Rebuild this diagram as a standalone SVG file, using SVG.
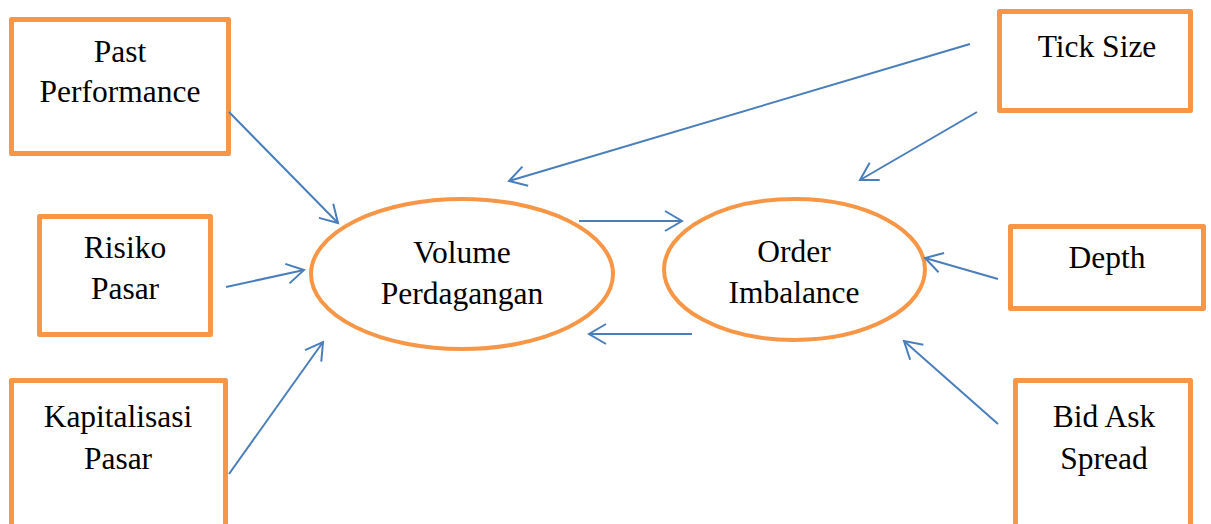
<svg xmlns="http://www.w3.org/2000/svg" width="1211" height="524" viewBox="0 0 1211 524">
  <style>
    .box { fill: #ffffff; stroke: #F79646; stroke-width: 5; stroke-linejoin: round; }
    .oval { fill: #ffffff; stroke: #F79646; stroke-width: 4; }
    .lbl { font-family: 'Liberation Serif', 'Times New Roman', serif; font-size: 31.5px; fill: #000000; text-anchor: middle; }
    .link { fill: none; stroke: #4A7EBB; stroke-width: 2; marker-end: url(#head); }
  </style>
  <defs>
    <marker id="head" markerUnits="userSpaceOnUse" markerWidth="24" markerHeight="26" viewBox="-20 -13 24 26" refX="0" refY="0" orient="auto">
      <path d="M-17,-10 L0,0 L-17,10" fill="none" stroke="#4A7EBB" stroke-width="2"/>
    </marker>
  </defs>
  <rect width="1211" height="524" fill="#ffffff"/>

  <g id="past-performance">
    <rect class="box" x="11.5" y="19.5" width="217" height="134"/>
    <text class="lbl" x="120" y="62">Past</text>
    <text class="lbl" x="120" y="102">Performance</text>
  </g>
  <g id="risiko-pasar">
    <rect class="box" x="39.5" y="216.5" width="171" height="118"/>
    <text class="lbl" x="125" y="258">Risiko</text>
    <text class="lbl" x="125" y="299">Pasar</text>
  </g>
  <g id="kapitalisasi-pasar">
    <rect class="box" x="11.5" y="380.5" width="214" height="160"/>
    <text class="lbl" x="118" y="427">Kapitalisasi</text>
    <text class="lbl" x="118" y="469">Pasar</text>
  </g>
  <g id="tick-size">
    <rect class="box" x="999.5" y="11.5" width="191" height="99"/>
    <text class="lbl" x="1097" y="57">Tick Size</text>
  </g>
  <g id="depth">
    <rect class="box" x="1010.5" y="226.5" width="193" height="82"/>
    <text class="lbl" x="1107" y="268">Depth</text>
  </g>
  <g id="bid-ask-spread">
    <rect class="box" x="1015.5" y="380.5" width="175" height="160"/>
    <text class="lbl" x="1104" y="427">Bid Ask</text>
    <text class="lbl" x="1104" y="469">Spread</text>
  </g>
  <g id="volume-perdagangan">
    <ellipse class="oval" cx="462" cy="274" rx="151" ry="75"/>
    <text class="lbl" x="462" y="263">Volume</text>
    <text class="lbl" x="462" y="304">Perdagangan</text>
  </g>
  <g id="order-imbalance">
    <ellipse class="oval" cx="794.5" cy="269.5" rx="130.5" ry="70.5"/>
    <text class="lbl" x="794" y="262">Order</text>
    <text class="lbl" x="794" y="303">Imbalance</text>
  </g>

  <g id="connectors">
    <line class="link" x1="229" y1="112" x2="338" y2="223"/>
    <line class="link" x1="226" y1="287" x2="304" y2="270"/>
    <line class="link" x1="229" y1="474" x2="323" y2="342"/>
    <line class="link" x1="970" y1="44" x2="509" y2="181"/>
    <line class="link" x1="977" y1="112" x2="860" y2="180"/>
    <line class="link" x1="579" y1="221" x2="682" y2="221"/>
    <line class="link" x1="692" y1="334" x2="589" y2="334"/>
    <line class="link" x1="998" y1="279" x2="925" y2="258"/>
    <line class="link" x1="998" y1="424" x2="904" y2="341"/>
  </g>
</svg>
